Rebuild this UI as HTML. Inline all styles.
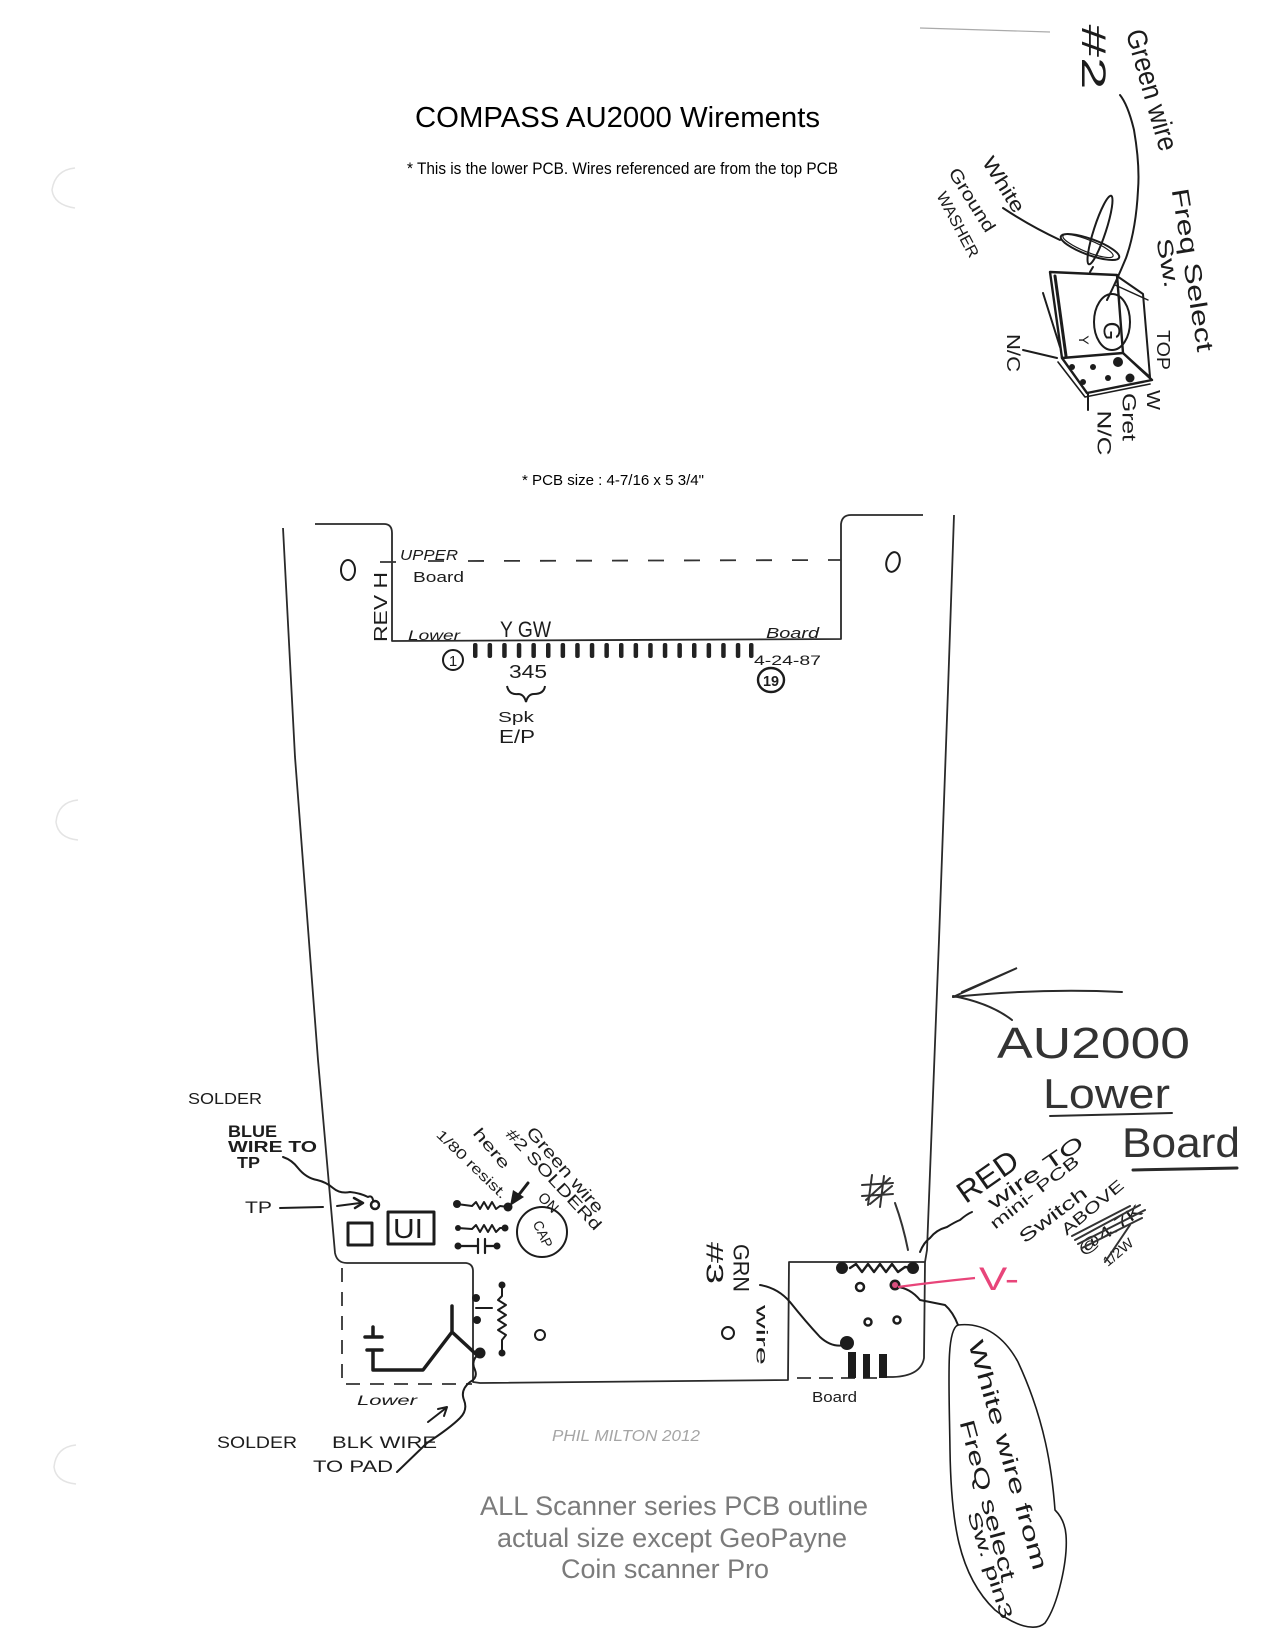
<!DOCTYPE html>
<html><head><meta charset="utf-8"><style>
html,body{margin:0;padding:0;background:#fff;}
svg{display:block;}
text{font-family:"Liberation Sans",Arial,sans-serif;}
.h{fill:#1c1c1c;}
</style></head><body>
<svg width="1275" height="1650" viewBox="0 0 1275 1650" xmlns="http://www.w3.org/2000/svg">
<rect width="1275" height="1650" fill="#fff"/>
<!-- faint hole punches -->
<g fill="none" stroke="#e4e4e4" stroke-width="1.5">
<path d="M75 168 Q55 170 52 190 Q54 205 75 208"/>
<path d="M78 800 Q58 802 56 822 Q58 838 78 840"/>
<path d="M76 1445 Q56 1447 54 1467 Q56 1482 76 1484"/>
</g>
<!-- headings -->
<text x="415" y="127" font-size="29" fill="#000" textLength="405" lengthAdjust="spacingAndGlyphs">COMPASS AU2000 Wirements</text>
<text x="407" y="174" font-size="17" fill="#000" textLength="431" lengthAdjust="spacingAndGlyphs">*  This is the lower PCB. Wires referenced are from the top PCB</text>
<text x="522" y="485" font-size="15" fill="#000" textLength="182" lengthAdjust="spacingAndGlyphs">*  PCB size : 4-7/16 x 5 3/4"</text>

<!-- PCB outline -->
<g fill="none" stroke="#2a2a2a" stroke-width="1.8" stroke-linejoin="round">
<path d="M315 524 L384 524 Q392 524 392 533 L392 641 L841 639 L841 524 Q842 515 851 515 L923 515"/>
<path d="M283 528 L295 757 L318 1060 L335 1253 Q337 1263 347 1263 L466 1263 Q473 1264 473 1271 L473 1382 L480 1383 L788 1380 L789 1262 L925 1262"/>
<path d="M954 515 L948 690 L939 940 L927 1250 L925 1262 L924 1358 Q921 1376 893 1377 L882 1377"/>
</g>
<!-- dashed board lines -->
<g fill="none" stroke="#333" stroke-width="1.8">
<path d="M468 561 L841 560" stroke-dasharray="16 20"/>
<path d="M380 562 L396 562 M428 561 L444 561"/>
<path d="M342 1268 L342 1384 L472 1384" stroke-dasharray="14 10"/>
<path d="M797 1378 L880 1378" stroke-dasharray="14 8"/>
</g>

<!-- connector pins -->
<g fill="#222">
<rect x="473" y="643" width="4.5" height="15" rx="2"/>
<rect x="487.6" y="643" width="4.5" height="15" rx="2"/>
<rect x="502.2" y="643" width="4.5" height="15" rx="2"/>
<rect x="516.8" y="643" width="4.5" height="15" rx="2"/>
<rect x="531.4" y="643" width="4.5" height="15" rx="2"/>
<rect x="546" y="643" width="4.5" height="15" rx="2"/>
<rect x="560.6" y="643" width="4.5" height="15" rx="2"/>
<rect x="575.2" y="643" width="4.5" height="15" rx="2"/>
<rect x="589.8" y="643" width="4.5" height="15" rx="2"/>
<rect x="604.4" y="643" width="4.5" height="15" rx="2"/>
<rect x="619" y="643" width="4.5" height="15" rx="2"/>
<rect x="633.6" y="643" width="4.5" height="15" rx="2"/>
<rect x="648.2" y="643" width="4.5" height="15" rx="2"/>
<rect x="662.8" y="643" width="4.5" height="15" rx="2"/>
<rect x="677.4" y="643" width="4.5" height="15" rx="2"/>
<rect x="692" y="643" width="4.5" height="15" rx="2"/>
<rect x="706.6" y="643" width="4.5" height="15" rx="2"/>
<rect x="721.2" y="643" width="4.5" height="15" rx="2"/>
<rect x="735.8" y="643" width="4.5" height="15" rx="2"/>
<rect x="749" y="643" width="4.5" height="15" rx="2"/>
</g>

<!-- top board labels -->
<g class="h">
<text x="400" y="560" font-size="15" textLength="58" lengthAdjust="spacingAndGlyphs" font-style="italic">UPPER</text>
<text x="413" y="582" font-size="15" textLength="51" lengthAdjust="spacingAndGlyphs">Board</text>
<text x="381" y="607" font-size="18" text-anchor="middle" dominant-baseline="central" transform="rotate(-90 381 607)" textLength="70" lengthAdjust="spacingAndGlyphs">REV H</text>
<text x="408" y="640" font-size="14" font-style="italic" textLength="52" lengthAdjust="spacingAndGlyphs">Lower</text>
<text x="500" y="637" font-size="22" textLength="51" lengthAdjust="spacingAndGlyphs">Y GW</text>
<text x="766" y="638" font-size="15" font-style="italic" textLength="53" lengthAdjust="spacingAndGlyphs">Board</text>
<text x="509" y="678" font-size="18" textLength="38" lengthAdjust="spacingAndGlyphs">345</text>
<text x="754" y="665" font-size="14" textLength="67" lengthAdjust="spacingAndGlyphs">4-24-87</text>
<text x="498" y="722" font-size="15" textLength="36" lengthAdjust="spacingAndGlyphs">Spk</text>
<text x="499" y="743" font-size="18" textLength="36" lengthAdjust="spacingAndGlyphs">E/P</text>
<text x="453" y="666" font-size="15" text-anchor="middle">1</text>
<text x="771" y="686" font-size="15" font-weight="bold" text-anchor="middle" textLength="16" lengthAdjust="spacingAndGlyphs">19</text>
</g>
<g fill="none" stroke="#1c1c1c" stroke-width="2">
<ellipse cx="348" cy="570" rx="7" ry="10"/>
<ellipse cx="893" cy="562" rx="6.5" ry="10" transform="rotate(15 893 562)"/>
<circle cx="453" cy="660" r="10"/>
<ellipse cx="771" cy="680" rx="13" ry="12" stroke-width="2.4"/>
<path d="M507 686 Q509 695 518 694 Q524 694 526 702 Q528 694 534 694 Q544 694 545 686"/>
</g>

<!-- LEFT BOTTOM AREA -->
<g class="h">
<text x="188" y="1104" font-size="16" textLength="74" lengthAdjust="spacingAndGlyphs">SOLDER</text>
<text x="228" y="1137" font-size="17" font-weight="bold" textLength="49" lengthAdjust="spacingAndGlyphs">BLUE</text>
<text x="228" y="1152" font-size="16" font-weight="bold" textLength="89" lengthAdjust="spacingAndGlyphs">WIRE TO</text>
<text x="237" y="1168" font-size="16" font-weight="bold" textLength="23" lengthAdjust="spacingAndGlyphs">TP</text>
<text x="245" y="1213" font-size="17" textLength="27" lengthAdjust="spacingAndGlyphs">TP</text>
<text x="393" y="1238" font-size="28" textLength="30" lengthAdjust="spacingAndGlyphs">UI</text>
<text x="357" y="1405" font-size="14" font-style="italic" textLength="60" lengthAdjust="spacingAndGlyphs">Lower</text>
<text x="217" y="1448" font-size="17" textLength="80" lengthAdjust="spacingAndGlyphs">SOLDER</text>
<text x="332" y="1448" font-size="17" textLength="105" lengthAdjust="spacingAndGlyphs">BLK WIRE</text>
<text x="313" y="1472" font-size="17" textLength="80" lengthAdjust="spacingAndGlyphs">TO PAD</text>
<!-- rotated green wire note -->
<text x="565" y="1170" font-size="17" text-anchor="middle" dominant-baseline="central" transform="rotate(49 565 1170)" textLength="108" lengthAdjust="spacingAndGlyphs">Green wire</text>
<text x="553" y="1180" font-size="16" text-anchor="middle" dominant-baseline="central" transform="rotate(47 553 1180)" textLength="132" lengthAdjust="spacingAndGlyphs">#2  SOLDERd</text>
<text x="491" y="1149" font-size="16" text-anchor="middle" dominant-baseline="central" transform="rotate(50 491 1149)" textLength="48" lengthAdjust="spacingAndGlyphs">here</text>
<text x="548" y="1203" font-size="15" text-anchor="middle" dominant-baseline="central" transform="rotate(45 548 1203)" textLength="22" lengthAdjust="spacingAndGlyphs">ON</text>
<text x="472" y="1164" font-size="14" text-anchor="middle" dominant-baseline="central" transform="rotate(44 472 1164)" textLength="92" lengthAdjust="spacingAndGlyphs">1/80 resist.</text>
<text x="543" y="1234" font-size="14" text-anchor="middle" dominant-baseline="central" transform="rotate(65 543 1234)" textLength="28" lengthAdjust="spacingAndGlyphs">CAP</text>
</g>
<g fill="none" stroke="#1c1c1c" stroke-width="2" stroke-linecap="round" stroke-linejoin="round">
<!-- blue wire squiggle -->
<path d="M283 1157 Q292 1160 298 1168 Q306 1178 317 1180 Q326 1182 333 1188 Q340 1194 350 1192 Q360 1193 368 1197 Q372 1195 373 1200"/>
<path d="M280 1208 L323 1207"/>
<path d="M337 1206 L360 1203"/>
<path d="M354 1198 L363 1203 L355 1208" stroke-width="2.5"/>
<circle cx="375" cy="1205" r="4" stroke-width="2.5"/>
<!-- square and U1 -->
<rect x="348" y="1223" width="24" height="22" stroke-width="3"/>
<rect x="388" y="1212" width="46" height="32" stroke-width="3"/>
<!-- resistors -->
<path d="M457 1204 L472 1206 L476 1202 L480 1209 L484 1202 L488 1209 L492 1202 L496 1209 L500 1206 L508 1207"/>
<path d="M458 1228 L472 1229 L476 1225 L480 1232 L484 1225 L488 1232 L492 1225 L496 1232 L500 1228 L505 1228"/>
<path d="M458 1246 L478 1246 M478 1239 L478 1253 M485 1239 L485 1253 M485 1246 L497 1246" stroke-width="2.2"/>
<circle cx="542" cy="1232" r="25"/>
<!-- arrow to resistor -->
<path d="M528 1183 L514 1201" stroke-width="3"/>
</g>
<g fill="#1c1c1c">
<circle cx="457" cy="1204" r="4"/>
<circle cx="508" cy="1207" r="4.5"/>
<circle cx="458" cy="1228" r="3"/>
<circle cx="505" cy="1228" r="3.5"/>
<circle cx="458" cy="1246" r="3.5"/>
<circle cx="497" cy="1246" r="3.5"/>
<path d="M510 1206 L513 1190 L524 1197 Z"/>
</g>
<!-- lower-left components -->
<g fill="none" stroke="#1c1c1c" stroke-width="2" stroke-linecap="round" stroke-linejoin="round">
<path d="M476 1308 L492 1308"/>
<path d="M502 1285 L502 1296 L498 1300 L506 1305 L498 1310 L506 1315 L498 1320 L506 1325 L498 1330 L506 1335 L502 1340 L502 1353"/>
<circle cx="540" cy="1335" r="5"/>
<path d="M452 1306 L452 1332 L478 1356 M452 1332 L423 1370 L373 1370 L373 1350 M373 1337 L373 1327 M365 1337 L382 1337 M367 1350 L382 1350" stroke-width="3.5"/>
<path d="M480 1353 Q470 1360 475 1370 Q478 1378 470 1382 Q460 1390 464 1400 Q468 1410 460 1418 Q450 1428 427 1443 L397 1472"/>
<path d="M428 1422 L446 1408"/>
<path d="M438 1409 L447 1407 L444 1416"/>
</g>
<g fill="#1c1c1c">
<circle cx="476" cy="1298" r="4"/>
<circle cx="477" cy="1320" r="4"/>
<circle cx="480" cy="1353" r="5.5"/>
<circle cx="502" cy="1285" r="3.5"/>
<circle cx="502" cy="1353" r="3.5"/>
</g>

<!-- bottom texts -->
<text x="552" y="1441" font-size="16" font-style="italic" fill="#a5a5a5" textLength="148" lengthAdjust="spacingAndGlyphs">PHIL MILTON 2012</text>
<text x="812" y="1402" font-size="15" class="h" textLength="45" lengthAdjust="spacingAndGlyphs">Board</text>
<g fill="#7b7b7b" font-size="27">
<text x="480" y="1515" textLength="388" lengthAdjust="spacingAndGlyphs">ALL Scanner series PCB outline</text>
<text x="497" y="1547" textLength="350" lengthAdjust="spacingAndGlyphs">actual size except GeoPayne</text>
<text x="561" y="1578" textLength="208" lengthAdjust="spacingAndGlyphs">Coin scanner Pro</text>
</g>

<!-- RIGHT SIDE -->
<g fill="none" stroke="#2a2a2a" stroke-width="2" stroke-linecap="round">
<path d="M1122 992 Q1040 988 953 997"/>
<path d="M953 997 L1017 968 L962 992"/>
<path d="M953 996 Q990 1003 1012 1020"/>
<path d="M1050 1116 L1172 1113"/>
<path d="M1133 1170 L1237 1168" stroke-width="3"/>
</g>
<g fill="#333">
<text x="997" y="1058" font-size="44" textLength="193" lengthAdjust="spacingAndGlyphs">AU2000</text>
<text x="1043" y="1108" font-size="42" textLength="127" lengthAdjust="spacingAndGlyphs">Lower</text>
<text x="1122" y="1157" font-size="42" textLength="118" lengthAdjust="spacingAndGlyphs">Board</text>
</g>
<g class="h">
<text x="988" y="1177" font-size="30" text-anchor="middle" dominant-baseline="central" transform="rotate(-35 988 1177)" textLength="68" lengthAdjust="spacingAndGlyphs">RED</text>
<text x="1036" y="1173" font-size="20" text-anchor="middle" dominant-baseline="central" transform="rotate(-35 1036 1173)" textLength="112" lengthAdjust="spacingAndGlyphs">wire TO</text>
<text x="1035" y="1193" font-size="16" text-anchor="middle" dominant-baseline="central" transform="rotate(-38 1035 1193)" textLength="108" lengthAdjust="spacingAndGlyphs">mini- PCB</text>
<text x="1053" y="1215" font-size="18" text-anchor="middle" dominant-baseline="central" transform="rotate(-37 1053 1215)" textLength="80" lengthAdjust="spacingAndGlyphs">Switch</text>
<text x="1093" y="1208" font-size="16" text-anchor="middle" dominant-baseline="central" transform="rotate(-40 1093 1208)" textLength="76" lengthAdjust="spacingAndGlyphs">ABOVE</text>
<text x="1110" y="1230" font-size="17" text-anchor="middle" dominant-baseline="central" transform="rotate(-35 1110 1230)" textLength="75" lengthAdjust="spacingAndGlyphs">@4.7K</text>
<text x="1118" y="1252" font-size="14" text-anchor="middle" dominant-baseline="central" transform="rotate(-40 1118 1252)" textLength="35" lengthAdjust="spacingAndGlyphs">1/2W</text>
<text x="714" y="1263" font-size="24" text-anchor="middle" dominant-baseline="central" transform="rotate(90 714 1263)" textLength="42" lengthAdjust="spacingAndGlyphs">#3</text>
<text x="741" y="1268" font-size="22" text-anchor="middle" dominant-baseline="central" transform="rotate(90 741 1268)" textLength="48" lengthAdjust="spacingAndGlyphs">GRN</text>
<text x="761" y="1335" font-size="16" text-anchor="middle" dominant-baseline="central" transform="rotate(90 761 1335)" textLength="60" lengthAdjust="spacingAndGlyphs">wire</text>
</g>
<!-- scribbles -->
<g fill="none" stroke="#333" stroke-width="2" stroke-linecap="round">
<path d="M868 1205 L872 1175 M880 1207 L884 1176 M862 1185 L893 1183 M862 1196 L893 1194 M866 1200 L890 1178 M870 1204 L892 1186"/>
<path d="M895 1203 Q903 1225 908 1250"/>
<path d="M1075 1240 L1140 1205 M1078 1244 L1145 1210 M1082 1248 L1142 1218 M1072 1236 L1130 1206"/>
<path d="M1105 1262 L1130 1225"/>
</g>
<g fill="none" stroke="#1c1c1c" stroke-width="2" stroke-linecap="round" stroke-linejoin="round">
<path d="M920 1252 Q924 1242 930 1238 Q936 1230 947 1227 Q955 1222 960 1220 Q967 1214 972 1212"/>
<path d="M850 1268 L856 1264 L862 1272 L868 1264 L874 1272 L880 1264 L886 1272 L892 1264 L898 1272 L905 1267 L913 1268" stroke-width="2.4"/>
<circle cx="860" cy="1287" r="4" stroke-width="2.5"/>
<circle cx="868" cy="1322" r="3.5" stroke-width="2.5"/>
<circle cx="897" cy="1320" r="3.5" stroke-width="2.5"/>
<circle cx="728" cy="1333" r="6"/>
<path d="M760 1285 Q778 1288 790 1302 Q806 1322 820 1337 Q832 1348 845 1345"/>
<path d="M897 1287 Q910 1288 920 1300 Q935 1303 945 1305 Q953 1312 958 1325"/>
<path d="M958 1325 C946 1330 949 1380 950 1450 C951 1520 958 1575 995 1610 C1015 1626 1035 1632 1045 1623 C1058 1605 1068 1560 1066 1535 C1065 1522 1060 1515 1055 1510 C1052 1470 1045 1420 1018 1362 C1005 1338 985 1322 958 1325 Z" stroke-width="1.6"/>
</g>
<g fill="#1c1c1c">
<circle cx="842" cy="1268" r="6"/>
<circle cx="913" cy="1268" r="6"/>
<circle cx="895" cy="1285" r="5.5"/>
<circle cx="847" cy="1343" r="7"/>
<rect x="848" y="1352" width="8" height="26"/>
<rect x="863" y="1354" width="7" height="24"/>
<rect x="879" y="1354" width="8" height="24"/>
</g>
<!-- pink V- -->
<path d="M898 1287 Q935 1282 975 1278" fill="none" stroke="#e8457a" stroke-width="2.2"/>
<circle cx="895" cy="1285" r="3" fill="#d8507f"/>
<text x="979" y="1290" font-size="32" fill="#e8457a" textLength="40" lengthAdjust="spacingAndGlyphs">V-</text>
<!-- balloon text -->
<g class="h">
<text x="1008" y="1455" font-size="22" text-anchor="middle" dominant-baseline="central" transform="rotate(74 1008 1455)" textLength="238" lengthAdjust="spacingAndGlyphs">White   wire  from</text>
<text x="987" y="1500" font-size="21" text-anchor="middle" dominant-baseline="central" transform="rotate(75 987 1500)" textLength="165" lengthAdjust="spacingAndGlyphs">FreQ  select</text>
<text x="990" y="1565" font-size="18" text-anchor="middle" dominant-baseline="central" transform="rotate(72 990 1565)" textLength="112" lengthAdjust="spacingAndGlyphs">Sw. pin3</text>
</g>

<!-- TOP RIGHT SKETCH -->
<path d="M920 28 L1050 32" stroke="#aaa" stroke-width="1.2" fill="none"/>
<g class="h">
<text x="1093" y="57" font-size="34" text-anchor="middle" dominant-baseline="central" transform="rotate(90 1093 57)" textLength="65" lengthAdjust="spacingAndGlyphs">#2</text>
<text x="1152" y="90" font-size="28" text-anchor="middle" dominant-baseline="central" transform="rotate(74 1152 90)" textLength="125" lengthAdjust="spacingAndGlyphs">Green wire</text>
<text x="1192" y="270" font-size="24" text-anchor="middle" dominant-baseline="central" transform="rotate(81 1192 270)" textLength="165" lengthAdjust="spacingAndGlyphs">Freq   Select</text>
<text x="1168" y="263" font-size="22" text-anchor="middle" dominant-baseline="central" transform="rotate(80 1168 263)" textLength="50" lengthAdjust="spacingAndGlyphs">Sw.</text>
<text x="1003" y="185" font-size="20" text-anchor="middle" dominant-baseline="central" transform="rotate(58 1003 185)" textLength="62" lengthAdjust="spacingAndGlyphs">White</text>
<text x="972" y="200" font-size="18" text-anchor="middle" dominant-baseline="central" transform="rotate(58 972 200)" textLength="72" lengthAdjust="spacingAndGlyphs">Ground</text>
<text x="957" y="225" font-size="16" text-anchor="middle" dominant-baseline="central" transform="rotate(62 957 225)" textLength="72" lengthAdjust="spacingAndGlyphs">WASHER</text>
<text x="1163" y="350" font-size="18" text-anchor="middle" dominant-baseline="central" transform="rotate(90 1163 350)" textLength="40" lengthAdjust="spacingAndGlyphs">TOP</text>
<text x="1013" y="353" font-size="18" text-anchor="middle" dominant-baseline="central" transform="rotate(90 1013 353)" textLength="38" lengthAdjust="spacingAndGlyphs">N/C</text>
<text x="1153" y="400" font-size="18" text-anchor="middle" dominant-baseline="central" transform="rotate(90 1153 400)" textLength="20" lengthAdjust="spacingAndGlyphs">W</text>
<text x="1128" y="417" font-size="19" text-anchor="middle" dominant-baseline="central" transform="rotate(90 1128 417)" textLength="48" lengthAdjust="spacingAndGlyphs">Gret</text>
<text x="1103" y="433" font-size="19" text-anchor="middle" dominant-baseline="central" transform="rotate(90 1103 433)" textLength="45" lengthAdjust="spacingAndGlyphs">N/C</text>
<text x="1111" y="331" font-size="24" text-anchor="middle" dominant-baseline="central" transform="rotate(90 1111 331)">G</text>
<text x="1084" y="340" font-size="14" text-anchor="middle" dominant-baseline="central" transform="rotate(90 1084 340)">Y</text>
</g>
<g fill="none" stroke="#1c1c1c" stroke-width="2" stroke-linecap="round" stroke-linejoin="round">
<path d="M1120 95 Q1128 105 1134 130 Q1140 165 1138 190 Q1136 230 1126 258 Q1116 282 1107 300"/>
<path d="M1003 208 Q1030 226 1060 240"/>
<ellipse cx="1090" cy="247" rx="31" ry="8" transform="rotate(20 1090 247)"/>
<ellipse cx="1088" cy="246" rx="27" ry="6" transform="rotate(22 1088 246)" stroke-width="1.2"/>
<ellipse cx="1100" cy="230" rx="6" ry="36" transform="rotate(18 1100 230)"/>
<path d="M1093 267 L1090 272"/>
<path d="M1050 272 L1117 275 L1123 353 L1062 358 Z" stroke-width="2.4"/>
<path d="M1055 276 L1066 356" stroke-width="3"/>
<path d="M1043 293 L1060 347"/>
<path d="M1117 276 L1143 294 L1150 377 L1123 353"/>
<path d="M1115 285 L1148 300" stroke-width="1.4"/>
<path d="M1062 358 L1087 393 L1152 380 L1123 353" stroke-width="2.4"/>
<path d="M1058 362 L1085 397 L1150 384" stroke-width="1.6"/>
<ellipse cx="1112" cy="322" rx="18" ry="28"/>
<path d="M1023 350 L1057 358"/>
<path d="M1088 393 L1088 410"/>
</g>
<g fill="#1c1c1c">
<circle cx="1072" cy="367" r="3"/>
<circle cx="1093" cy="367" r="3"/>
<circle cx="1118" cy="362" r="5"/>
<circle cx="1083" cy="382" r="3"/>
<circle cx="1108" cy="378" r="3"/>
<circle cx="1130" cy="378" r="4.5"/>
</g>
</svg>
</body></html>
